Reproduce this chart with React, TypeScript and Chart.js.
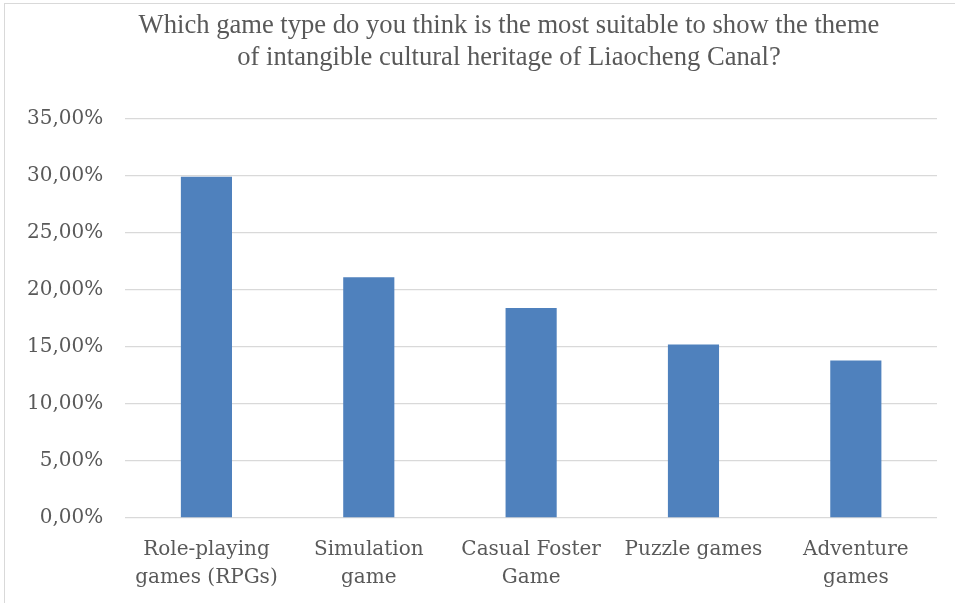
import React, { useEffect, useRef } from "react";
import { Chart, registerables } from "chart.js";

Chart.register(...registerables);

const titleLines = [
  "Which game type do you think is the most suitable to show the theme",
  "of intangible cultural heritage of Liaocheng Canal?",
];
const categories: string[][] = [
  ["Role-playing", "games (RPGs)"],
  ["Simulation", "game"],
  ["Casual Foster", "Game"],
  ["Puzzle games"],
  ["Adventure", "games"],
];
const shares = [29.9, 21.1, 18.4, 15.2, 13.8];
const yMin = 0;
const yMax = 35;
const yStep = 5;

const titlePlugin = {
  id: "customTitle",
  afterDraw(chart: any) {
    const ctx = chart.ctx;
    ctx.save();
    ctx.fillStyle = "#595959";
    ctx.font = "normal 26.6px 'Liberation Serif', 'Times New Roman', serif";
    ctx.textAlign = "center";
    ctx.textBaseline = "middle";
    titleLines.forEach((line, i) => {
      ctx.fillText(line, 509, 26.5 + i * 32);
    });
    ctx.restore();
  },
};

export default function App() {
  const ref = useRef<HTMLCanvasElement | null>(null);

  useEffect(() => {
    document.body.style.margin = "0";
    if (!ref.current) return;
    const chart = new Chart(ref.current, {
      type: "bar",
      data: {
        labels: categories,
        datasets: [
          {
            data: shares,
            backgroundColor: "#4f81bd",
            borderWidth: 0,
            barPercentage: 0.315,
            categoryPercentage: 1,
          },
        ],
      },
      plugins: [titlePlugin],
      options: {
        animation: false,
        responsive: false,
        maintainAspectRatio: false,
        layout: { padding: { left: 5, right: 18, top: 118.5, bottom: 1 } },
        plugins: {
          legend: { display: false },
          tooltip: { enabled: false },
          title: { display: false },
        },
        scales: {
          x: {
            grid: { display: false },
            border: { display: false },
            ticks: {
              color: "#595959",
              font: { family: "'DejaVu Serif', serif", size: 20, lineHeight: 1.4 },
              maxRotation: 0,
              autoSkip: false,
              padding: 10,
            },
          },
          y: {
            min: yMin,
            max: yMax,
            grid: { color: "#d9d9d9", lineWidth: 1.3, drawTicks: false },
            border: { display: false },
            ticks: {
              stepSize: yStep,
              color: "#595959",
              font: { family: "'DejaVu Serif', serif", size: 20 },
              padding: 22,
              callback: (v: any) => Number(v).toFixed(2).replace(".", ",") + "%",
            },
          },
        },
      },
    });
    return () => chart.destroy();
  }, []);

  return (
    <div style={{ position: "relative", width: 955, height: 603, overflow: "hidden", background: "#fff" }}>
      <div
        style={{
          position: "absolute",
          left: 4,
          top: 3,
          width: 1000,
          height: 700,
          border: "1.5px solid #d9d9d9",
        }}
      />
      <canvas ref={ref} width={955} height={603} style={{ position: "absolute", left: 0, top: 0 }} />
    </div>
  );
}
